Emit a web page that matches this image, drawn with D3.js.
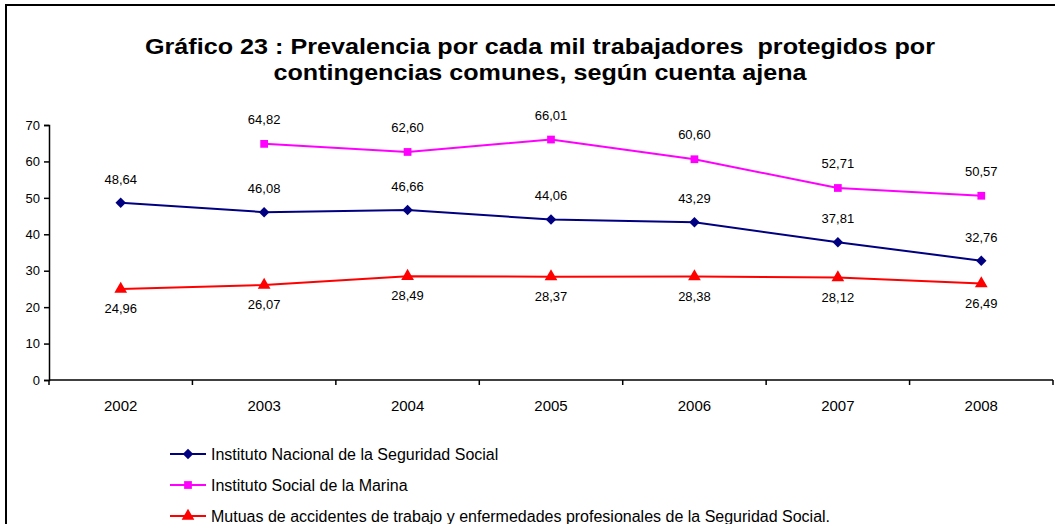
<!DOCTYPE html>
<html>
<head>
<meta charset="utf-8">
<script src="https://cdn.jsdelivr.net/npm/d3@7"></script>
<style>
  body { margin: 0; background: #fff; }
  svg { display: block; font-family: "Liberation Sans", Arial, sans-serif; }
</style>
</head>
<body>
<div id="visArea"></div>
<script>

var years = ['2002', '2003', '2004', '2005', '2006', '2007', '2008'];
var inss = [48.64, 46.08, 46.66, 44.06, 43.29, 37.81, 32.76];
var ism = [null, 64.82, 62.60, 66.01, 60.60, 52.71, 50.57];
var mutuas = [24.96, 26.07, 28.49, 28.37, 28.38, 28.12, 26.49];
var yTicks = [0, 10, 20, 30, 40, 50, 60, 70];
var seriesNames = [
  'Instituto Nacional de la Seguridad Social',
  'Instituto Social de la Marina',
  'Mutuas de accidentes de trabajo y enfermedades profesionales de la Seguridad Social.'
];
var titleLines = [
  'Gráfico 23 : Prevalencia por cada mil trabajadores  protegidos por',
  'contingencias comunes, según cuenta ajena'
];
// widths the title lines take in the original (it uses a narrow, tall bold face)
var titleWidths = [790, 533];


function makeVis(){
  var w = 1055, h = 524;
  var svg = d3.select('#visArea').append('svg')
              .attr('width', w)
              .attr('height', h);

  // outer frame (right and bottom edges run off the picture)
  svg.append('rect')
     .attr('x', 6).attr('y', 5)
     .attr('width', 1060).attr('height', 530)
     .attr('fill', 'none')
     .attr('stroke', '#000')
     .attr('stroke-width', 2);

  svg.append('g').selectAll('text')
     .data(titleLines)
     .enter()
     .append('text')
     .attr('x', 540)
     .attr('y', function(d,i){ return 54 + i*26; })
     .attr('text-anchor', 'middle')
     .attr('xml:space', 'preserve')
     .attr('textLength', function(d,i){ return titleWidths[i]; })
     .attr('lengthAdjust', 'spacingAndGlyphs')
     .style('white-space', 'pre')
     .style('font-size', '22px')
     .style('font-weight', 'bold')
     .text(function(d){ return d; });

  var x = d3.scaleBand().domain(years).range([49, 1053]);
  var y = d3.scaleLinear().domain([0, 70]).range([380, 125]);

  // y axis
  var gy = svg.append('g')
              .attr('transform', 'translate(49,0)')
              .call(d3.axisLeft(y).tickValues(yTicks).tickSize(5).tickPadding(4));
  gy.select('.domain').attr('stroke', '#000').attr('stroke-width', 1.5);
  gy.selectAll('.tick line').attr('stroke', '#000').attr('stroke-width', 1.5);
  gy.selectAll('text').style('font-size', '13px').style('font-family', 'Liberation Sans, Arial, sans-serif').attr('fill', '#000');

  // x axis: ticks at the band edges
  var gx = svg.append('g').attr('transform', 'translate(0,380)');
  gx.append('line')
    .attr('x1', 49).attr('x2', 1053)
    .attr('stroke', '#000').attr('stroke-width', 1.5);
  var edges = years.map(function(d){ return x(d); }).concat([x.range()[1]]);
  gx.selectAll('line.tk')
    .data(edges)
    .enter()
    .append('line')
    .attr('class', 'tk')
    .attr('x1', function(d){ return d; })
    .attr('x2', function(d){ return d; })
    .attr('y1', 0).attr('y2', 5)
    .attr('stroke', '#000').attr('stroke-width', 1.5);
  gx.selectAll('text')
    .data(years)
    .enter()
    .append('text')
    .attr('x', function(d){ return x(d) + x.bandwidth()/2; })
    .attr('y', 31)
    .attr('text-anchor', 'middle')
    .style('font-size', '15px')
    .text(function(d){ return d; });

  var diamond = d3.symbolDiamond2 || d3.symbolDiamond;
  var series = [
    { vals: inss, color: '#000080', sym: diamond, size: 70, labelDy: -19 },
    { vals: ism, color: '#ff00ff', sym: d3.symbolSquare, size: 60, labelDy: -20 },
    { vals: mutuas, color: '#ff0000', sym: d3.symbolTriangle, size: 70, labelDy: 24 }
  ];

  var cx = function(i){ return x(years[i]) + x.bandwidth()/2; };

  series.forEach(function(s){
    var pts = s.vals.map(function(v,i){ return { i: i, v: v }; })
                    .filter(function(p){ return p.v !== null; });
    var line = d3.line()
                 .x(function(p){ return cx(p.i); })
                 .y(function(p){ return y(p.v); });
    svg.append('path')
       .datum(pts)
       .attr('d', line)
       .attr('fill', 'none')
       .attr('stroke', s.color)
       .attr('stroke-width', 2);
    svg.append('g').selectAll('path')
       .data(pts)
       .enter()
       .append('path')
       .attr('transform', function(p){ return 'translate(' + cx(p.i) + ',' + y(p.v) + ')'; })
       .attr('d', d3.symbol().type(s.sym).size(s.size))
       .attr('fill', s.color);
    svg.append('g').selectAll('text')
       .data(pts)
       .enter()
       .append('text')
       .attr('x', function(p){ return cx(p.i); })
       .attr('y', function(p){ return y(p.v) + s.labelDy; })
       .attr('text-anchor', 'middle')
       .style('font-size', '13px')
       .text(function(p){ return p.v.toFixed(2).replace('.', ','); });
  });

  // legend
  var leg = svg.append('g').selectAll('g')
               .data(series)
               .enter()
               .append('g')
               .attr('transform', function(d,i){ return 'translate(170,' + (454 + i*31) + ')'; });
  leg.append('line')
     .attr('x1', 0).attr('x2', 36)
     .attr('stroke', function(d){ return d.color; })
     .attr('stroke-width', 2);
  leg.append('path')
     .attr('transform', 'translate(18,0)')
     .attr('d', function(d){ return d3.symbol().type(d.sym).size(d.size)(); })
     .attr('fill', function(d){ return d.color; });
  leg.append('text')
     .attr('x', 41)
     .attr('y', 6)
     .style('font-size', '16px')
     .text(function(d,i){ return seriesNames[i]; });
}

makeVis();
</script>
</body>
</html>
